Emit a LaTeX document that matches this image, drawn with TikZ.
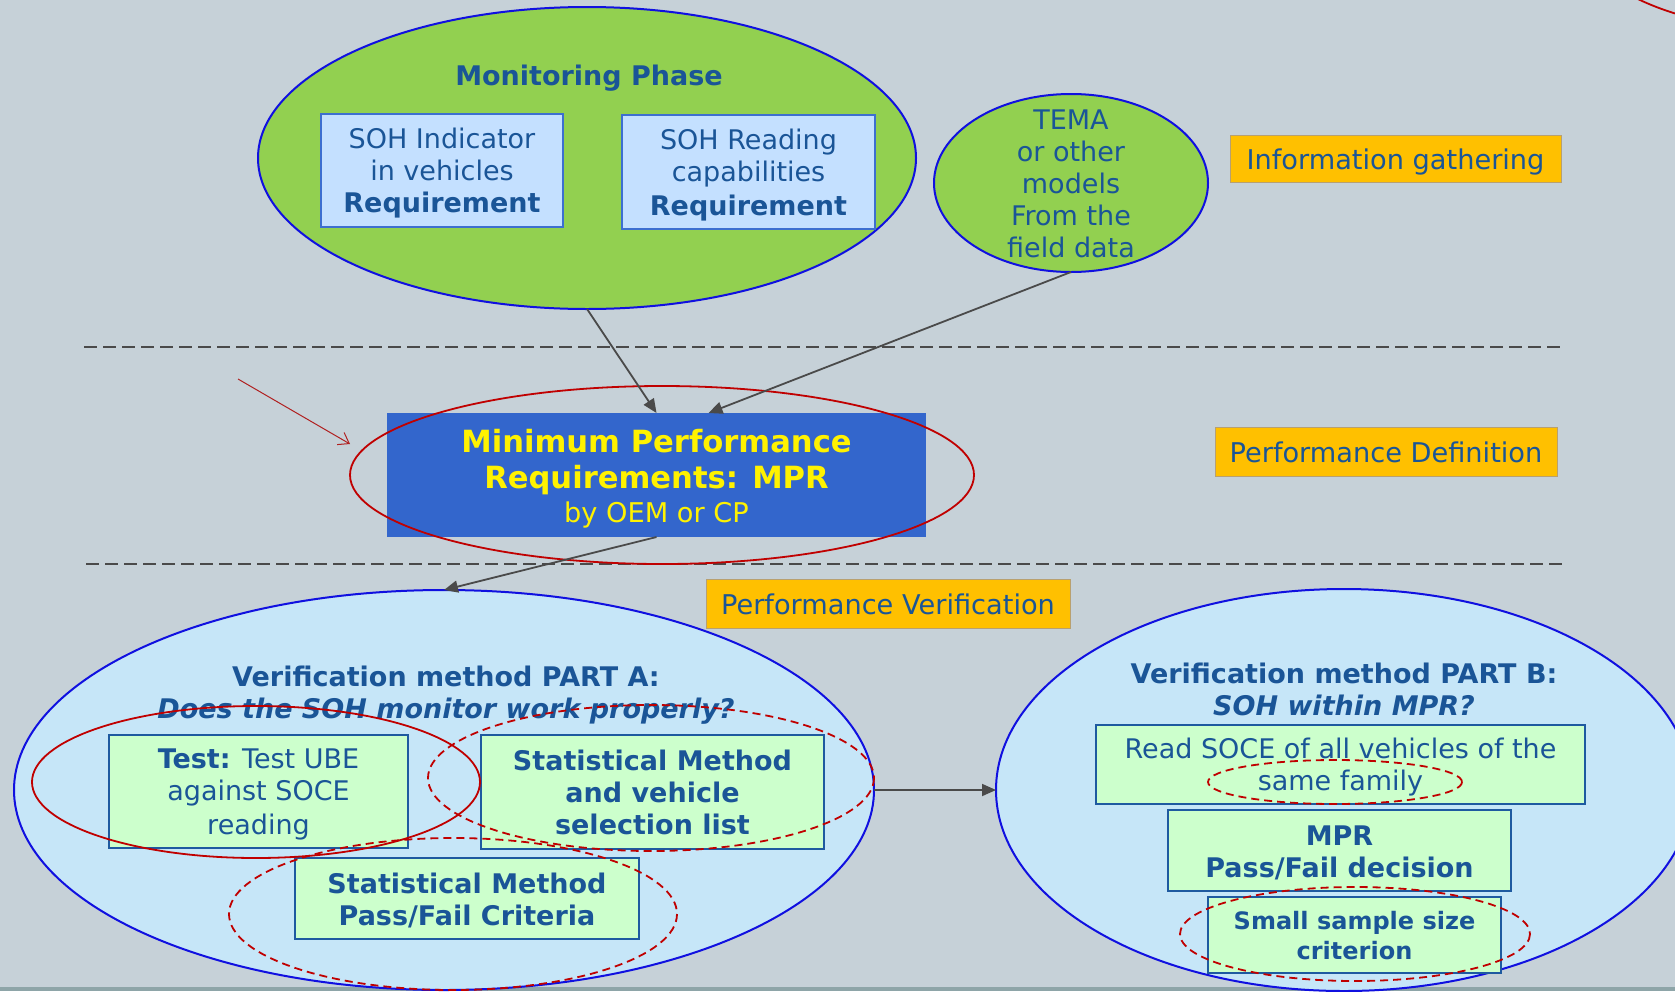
\documentclass[tikz,border=0pt]{standalone}
\usepackage{fontspec}
\setmainfont{DejaVu Sans}
\usetikzlibrary{shapes.geometric,arrows.meta,calc}
\definecolor{bgc}{HTML}{C6D1D8}
\definecolor{stripc}{HTML}{8EA5A8}
\definecolor{greenc}{HTML}{92D050}
\definecolor{blueline}{HTML}{1010E0}
\definecolor{txtc}{HTML}{1A5597}
\definecolor{reqfill}{HTML}{C4E0FF}
\definecolor{reqline}{HTML}{3D6FD0}
\definecolor{mprfill}{HTML}{3366CC}
\definecolor{orangec}{HTML}{FFC000}
\definecolor{orangeline}{HTML}{B8A070}
\definecolor{partfill}{HTML}{C6E6F8}
\definecolor{boxfill}{HTML}{CCFFCC}
\definecolor{boxline}{HTML}{1E5AA0}
\definecolor{redc}{HTML}{C00000}
\definecolor{arrc}{HTML}{4A4A4A}
\newcommand{\fsz}[2]{\fontsize{#1}{#2}\selectfont}
\newcommand{\sa}{\rule[-0.18em]{0pt}{1.16em}}
\begin{document}
\begin{tikzpicture}[x=0.5pt,y=-0.5pt,
  ell/.style={ellipse, draw=blueline, line width=1pt, outer sep=0pt, inner sep=0pt},
  reqbox/.style={rectangle, draw=reqline, fill=reqfill, line width=0.8pt, outer sep=0pt, inner sep=0pt, align=center, text=txtc, font=\fsz{13.5}{16}},
  gbox/.style={rectangle, draw=boxline, fill=boxfill, line width=0.8pt, outer sep=0pt, inner sep=0pt, align=center, text=txtc, font=\fsz{13.5}{16}},
  tag/.style={rectangle, draw=orangeline, fill=orangec, line width=0.5pt, outer sep=0pt, inner sep=0pt, text=txtc, font=\fsz{13.6}{16}},
  txt/.style={align=center, text=txtc, inner sep=0pt},
  conn/.style={draw=arrc, line width=0.9pt, -{Triangle[length=7pt,width=6pt]}},
  sep/.style={draw=arrc, line width=1.2pt, dash pattern=on 6.5pt off 3pt},
  redring/.style={draw=redc, line width=0.9pt},
  reddash/.style={draw=redc, line width=0.9pt, dash pattern=on 4pt off 2.5pt}
]
\useasboundingbox (0,0) rectangle (1675,991);
\clip (0,0) rectangle (1675,991);
\fill[bgc] (0,0) rectangle (1675,991);
\fill[stripc] (0,987) rectangle (1675,991);

% separators
\coordinate (s1a) at (84,347); \coordinate (s1b) at (1564,347);
\coordinate (s2a) at (86,564); \coordinate (s2b) at (1566,564);
\draw[sep] (s1a) -- (s1b);
\draw[sep] (s2a) -- (s2b);

% top-right red arc fragment
\draw[redring] (1628,-6) .. controls (1645,3) and (1660,9) .. (1680,15);

% Monitoring phase
\node[ell, fill=greenc, minimum width=329pt, minimum height=151pt] (mon) at (587,158) {};
\node[txt, font=\bfseries\fsz{13.5}{16}] (monT) at (589,75) {\sa Monitoring Phase\sa};
\node[reqbox, minimum width=121pt, minimum height=56.5pt] (soh1) at (442,170.5) {\sa SOH Indicator\\in vehicles\\\textbf{Requirement}\sa};
\node[reqbox, minimum width=126.5pt, minimum height=57pt] (soh2) at (748.5,172) {\sa SOH Reading\\capabilities\\\textbf{Requirement}\sa};

% TEMA
\node[ell, fill=greenc, minimum width=137pt, minimum height=89pt] (tema) at (1071,183) {};
\node[txt, font=\fsz{13.5}{16}] (temaT) at (1071,183) {\sa TEMA\\or other\\models\\From the\\field data\sa};

% tags
\node[tag, minimum width=165.5pt, minimum height=23.5pt] (info) at (1395.5,158.5) {\sa Information gathering};
\node[tag, minimum width=171pt, minimum height=24.5pt] (pdef) at (1386,451.5) {\sa Performance Definition};
\node[tag, minimum width=182pt, minimum height=24.5pt] (pver) at (888,603.5) {\sa Performance Verification};

% MPR
\node[rectangle, fill=mprfill, minimum width=269.5pt, minimum height=62pt, outer sep=0pt, inner sep=0pt] (mpr) at (656.5,475) {};
\node[align=center, text=yellow, inner sep=0pt, font=\bfseries\fsz{15.3}{18}] (mprT) at (656.5,475) {\sa Minimum Performance\\Requirements: MPR\\[-1pt]\mdseries\fsz{13.6}{16}by OEM or CP\sa};
\draw[redring] (662,475) ellipse [x radius=312, y radius=89];

% red pointer arrow
\coordinate (rpA) at (238,379); \coordinate (rpB) at (350,444);
\draw[draw=redc!75!gray, line width=0.5pt, -{Straight Barb[length=5pt,width=7pt]}] (rpA) -- (rpB);

% Part A
\node[ell, fill=partfill, minimum width=430pt, minimum height=200pt] (pa) at (444,790) {};
\node[txt, font=\bfseries\fsz{13.5}{16}] (paT) at (446,692) {\sa Verification method PART A:\\\itshape Does the SOH monitor work properly?\sa};
\node[gbox, minimum width=149.5pt, minimum height=56.5pt] (test) at (258.5,791.5) {\sa\textbf{Test:} Test UBE\\against SOCE\\reading\sa};
\node[gbox, font=\bfseries\fsz{13.5}{16}, minimum width=171.5pt, minimum height=57pt] (stat1) at (652.5,792) {\sa Statistical Method\\and vehicle\\selection list\sa};
\node[gbox, font=\bfseries\fsz{13.5}{16}, minimum width=172pt, minimum height=40.5pt] (stat2) at (467,898.5) {\sa Statistical Method\\Pass/Fail Criteria\sa};
\draw[redring] (256,782) ellipse [x radius=224, y radius=76];
\draw[reddash] (651,778) ellipse [x radius=223, y radius=73];
\draw[reddash] (453,914) ellipse [x radius=224, y radius=76];

% Part B
\node[ell, fill=partfill, minimum width=348pt, minimum height=201pt] (pb) at (1344,790) {};
\node[txt, font=\bfseries\fsz{13.5}{16}] (pbT) at (1344,689) {\sa Verification method PART B:\\\itshape SOH within MPR?\sa};
\node[gbox, minimum width=244.5pt, minimum height=39.5pt] (soce) at (1340.5,764.5) {\sa Read SOCE of all vehicles of the\\same family\sa};
\draw[reddash] (1335,782) ellipse [x radius=127, y radius=22];
\node[gbox, font=\bfseries\fsz{13.5}{16}, minimum width=171.5pt, minimum height=40.5pt] (mprpf) at (1339.5,850.5) {\sa MPR\\Pass/Fail decision\sa};
\node[gbox, font=\bfseries\fsz{12}{14}, minimum width=146.5pt, minimum height=38pt] (small) at (1354.5,935) {\sa Small sample size\\criterion\sa};
\draw[reddash] (1355,934) ellipse [x radius=175, y radius=47];

% connectors
\draw[conn] (mon.south) -- (mpr.north);
\draw[conn] (tema.south) -- ([xshift=26pt]mpr.north);
\draw[conn] (mpr.south) -- (pa.north);
\draw[conn] (pa.east) -- (pb.west);
\end{tikzpicture}
\end{document}
